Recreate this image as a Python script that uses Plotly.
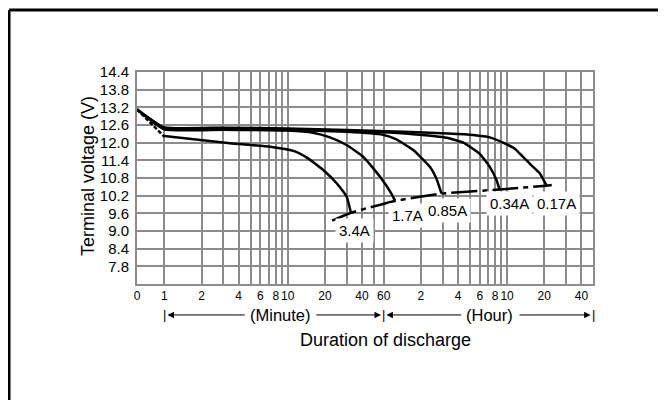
import numpy as np
import plotly.graph_objects as go

# time in minutes ("0" on the axis is drawn at the left edge, 0.6 min)
T0 = 0.6
T_END = 2980

# discharge curves (minutes, volts)
t_017 = [T0, 1, 3, 10, 30, 100, 200, 318, 434, 556, 700, 807, 950, 1102, 1250]
v_017 = [13.13, 12.52, 12.51, 12.48, 12.43, 12.36, 12.31, 12.26, 12.18, 12.0, 11.78, 11.52, 11.22, 10.96, 10.55]

t_034 = [T0, 1, 3, 10, 30, 60, 104, 194, 265, 360, 434, 492, 520]
v_034 = [13.13, 12.49, 12.48, 12.45, 12.4, 12.35, 12.29, 12.17, 12.0, 11.62, 11.18, 10.73, 10.42]

t_085 = [T0, 1, 3, 10, 30, 59, 76, 104, 142, 160, 176]
v_085 = [13.13, 12.47, 12.46, 12.43, 12.37, 12.27, 12.11, 11.75, 11.18, 10.79, 10.28]

t_17 = [T0, 1, 3, 10, 16, 22, 30, 41, 56, 69, 74]
v_17 = [13.13, 12.45, 12.44, 12.41, 12.34, 12.18, 11.92, 11.52, 10.84, 10.28, 10.03]

t_34_start = [T0, 1]
v_34_start = [13.13, 12.2]
t_34 = [1, 3.4, 7.2, 11.1, 14.2, 19.4, 24.9, 30, 32.5]
v_34 = [12.23, 11.98, 11.86, 11.72, 11.5, 11.07, 10.62, 10.17, 9.62]

# end-voltage line
t_cut = [22.9, 32.5, 74, 176, 520, 1250, 1380]
v_cut = [9.35, 9.62, 10.02, 10.27, 10.41, 10.54, 10.56]

# current labels
lab_text = ["3.4A", "1.7A", "0.85A", "0.34A", "0.17A"]
lab_t = [34.5, 94, 197, 633, 1514]
lab_v = [9.03, 9.51, 9.68, 9.94, 9.94]

# axes
y_ticks = [7.2, 7.8, 8.4, 9.0, 9.6, 10.2, 10.8, 11.4, 12.0, 12.6, 13.2, 13.8, 14.4]
x_grid = [T0, 1, 2, 3, 4, 5, 6, 7, 8, 9, 10, 20, 30, 40, 50, 60,
          120, 180, 240, 300, 360, 420, 480, 540, 600, 1200, 1800, 2400]
x_text = ["0", "1", "2", "", "4", "", "6", "", "8", "", "10", "20", "", "40", "", "60",
          "2", "", "4", "", "6", "", "8", "", "10", "20", "", "40"]

# spans of the (Minute) / (Hour) brackets, minutes
min_span = [1, 60]
hour_span = [60, T_END]

FONT = "Liberation Sans, Arial, sans-serif"
GRID = "#8c8c8c"

fig = go.Figure()

line = dict(color="black", width=2.5, shape="spline", smoothing=0.4)
for t, v in [(t_017, v_017), (t_034, v_034), (t_085, v_085), (t_17, v_17), (t_34, v_34)]:
    fig.add_trace(go.Scatter(x=t, y=v, mode="lines", line=line, hoverinfo="skip"))

fig.add_trace(go.Scatter(x=t_34_start, y=v_34_start, mode="lines",
                         line=dict(color="black", width=2.5, dash="4px,2px"), hoverinfo="skip"))
fig.add_trace(go.Scatter(x=t_cut, y=v_cut, mode="lines",
                         line=dict(color="black", width=2.5, dash="26px,5px,5px,5px",
                                   shape="spline", smoothing=0.4), hoverinfo="skip"))

for txt, t, v in zip(lab_text, lab_t, lab_v):
    fig.add_annotation(x=np.log10(t), y=v, text=txt, showarrow=False,
                       bgcolor="white", borderpad=3,
                       font=dict(family=FONT, size=15, color="black"))

# (Minute) / (Hour) arrows under the axis
ARROW_Y = -0.146
arrow = dict(xref="x", yref="paper", axref="x", ayref="pixel", ay=0, text="",
             showarrow=True, arrowhead=2, arrowsize=1.3, arrowwidth=1, arrowcolor="black")
fig.add_annotation(x=np.log10(1.06), y=ARROW_Y, ax=np.log10(4.6), **arrow)
fig.add_annotation(x=np.log10(57), y=ARROW_Y, ax=np.log10(16.6), **arrow)
fig.add_annotation(x=np.log10(63), y=ARROW_Y, ax=np.log10(262), **arrow)
fig.add_annotation(x=np.log10(2850), y=ARROW_Y, ax=np.log10(735), **arrow)
below = dict(yref="paper", showarrow=False, xanchor="center", yanchor="middle")
for t in min_span + hour_span[1:]:
    fig.add_annotation(x=np.log10(t), y=ARROW_Y, xref="x", text="|",
                       font=dict(family=FONT, size=13, color="black"), **below)
fig.add_annotation(x=np.log10(8.66), y=ARROW_Y, xref="x", text="(Minute)",
                   font=dict(family=FONT, size=16.5, color="black"), **below)
fig.add_annotation(x=np.log10(430), y=ARROW_Y, xref="x", text="(Hour)",
                   font=dict(family=FONT, size=16.5, color="black"), **below)

fig.add_annotation(x=0.544, y=-0.264, xref="paper", text="Duration of discharge",
                   font=dict(family=FONT, size=18, color="black"), **below)
fig.add_annotation(x=-0.1075, y=0.509, xref="paper", text="Terminal voltage (V)",
                   textangle=-90, font=dict(family=FONT, size=18, color="black"), **below)

# outer frame
fig.add_shape(type="line", xref="paper", yref="paper", x0=-0.2807, x1=-0.2807, y0=-0.57, y1=1.2925,
              line=dict(color="black", width=3))
fig.add_shape(type="line", xref="paper", yref="paper", x0=-0.2807, x1=1.16, y0=1.2925, y1=1.2925,
              line=dict(color="black", width=3))
fig.add_shape(type="line", xref="paper", yref="paper", x0=1.159, x1=1.159, y0=-0.57, y1=1.2925,
              line=dict(color="#c8c8c8", width=1.5))

fig.update_xaxes(type="log", range=[np.log10(T0), np.log10(T_END)],
                 tickmode="array", tickvals=x_grid, ticktext=x_text, tickangle=0,
                 showgrid=True, gridcolor=GRID, gridwidth=2,
                 showline=True, linecolor=GRID, linewidth=2, mirror=True,
                 ticks="", zeroline=False,
                 tickfont=dict(family=FONT, size=12, color="black"))
fig.update_yaxes(range=[7.2, 14.4], tickmode="array", tickvals=y_ticks,
                 ticktext=["" if v == 7.2 else f"{v:.1f}" for v in y_ticks],
                 showgrid=True, gridcolor=GRID, gridwidth=2,
                 showline=True, linecolor=GRID, linewidth=2, mirror=True,
                 ticks="", zeroline=False, ticklabelstandoff=3,
                 tickfont=dict(family=FONT, size=15, color="black"))

# the page has an 8px body margin, so the figure is 8px smaller than the window
fig.update_layout(width=658, height=392, showlegend=False,
                  margin=dict(l=129, r=73, t=64, b=116),
                  paper_bgcolor="white", plot_bgcolor="white",
                  font=dict(family=FONT, color="black"))

fig.write_html("out.html")
